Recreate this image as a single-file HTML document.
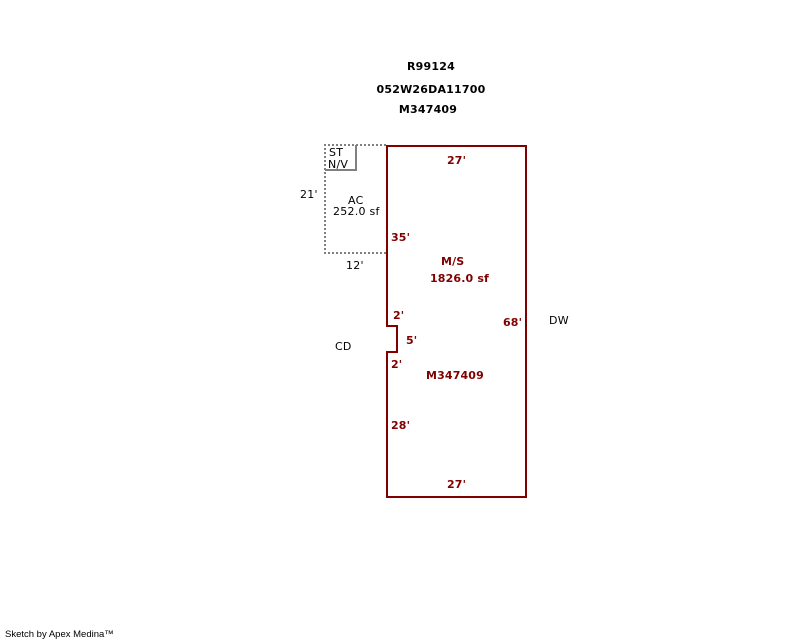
<!DOCTYPE html>
<html>
<head>
<meta charset="utf-8">
<style>
html,body{margin:0;padding:0;background:#fff;width:800px;height:640px;overflow:hidden}
svg{display:block}
text{font-family:"DejaVu Sans","Liberation Sans",sans-serif;font-size:11px}
.k{fill:#000;letter-spacing:.25px}
.b{fill:#000;font-weight:bold;letter-spacing:.2px}
.r{fill:#800000;font-weight:bold;letter-spacing:.15px}
path,rect{shape-rendering:crispEdges}
</style>
</head>
<body>
<svg width="800" height="640" viewBox="0 0 800 640" xmlns="http://www.w3.org/2000/svg">
<defs>
<pattern id="h" x="324" y="0" width="4" height="4" patternUnits="userSpaceOnUse"><rect width="2" height="4" fill="#808080"/></pattern>
<pattern id="v" x="0" y="144" width="4" height="4" patternUnits="userSpaceOnUse"><rect width="4" height="2" fill="#808080"/></pattern>
</defs>
<rect x="324" y="144" width="62" height="2" fill="url(#h)"/>
<rect x="324" y="252" width="62" height="2" fill="url(#h)"/>
<rect x="324" y="144" width="2" height="110" fill="url(#v)"/>
<path d="M325 170H356V145" fill="none" stroke="#808080" stroke-width="2"/>
<path d="M387 146H526V497H387V352H397V326H387Z" fill="none" stroke="#800000" stroke-width="2"/>
<text class="b" x="431" y="70" text-anchor="middle">R99124</text>
<text class="b" x="431" y="93" text-anchor="middle">052W26DA11700</text>
<text class="b" x="428" y="113" text-anchor="middle">M347409</text>
<text class="k" x="329" y="156">ST</text>
<text class="k" x="328" y="168">N/V</text>
<text class="k" x="300" y="198">21'</text>
<text class="k" x="348" y="204">AC</text>
<text class="k" x="333" y="215">252.0 sf</text>
<text class="k" x="346" y="269">12'</text>
<text class="k" x="549" y="324">DW</text>
<text class="k" x="335" y="350">CD</text>
<text class="r" x="447" y="164">27'</text>
<text class="r" x="391" y="241">35'</text>
<text class="r" x="441" y="265">M/S</text>
<text class="r" x="430" y="282">1826.0 sf</text>
<text class="r" x="393" y="319">2'</text>
<text class="r" x="503" y="326">68'</text>
<text class="r" x="406" y="344">5'</text>
<text class="r" x="391" y="368">2'</text>
<text class="r" x="426" y="379">M347409</text>
<text class="r" x="391" y="429">28'</text>
<text class="r" x="447" y="488">27'</text>
<text x="5" y="637" style="font-family:'Liberation Sans',sans-serif;font-size:9.5px;fill:#000">Sketch by Apex Medina™</text>
</svg>
</body>
</html>
